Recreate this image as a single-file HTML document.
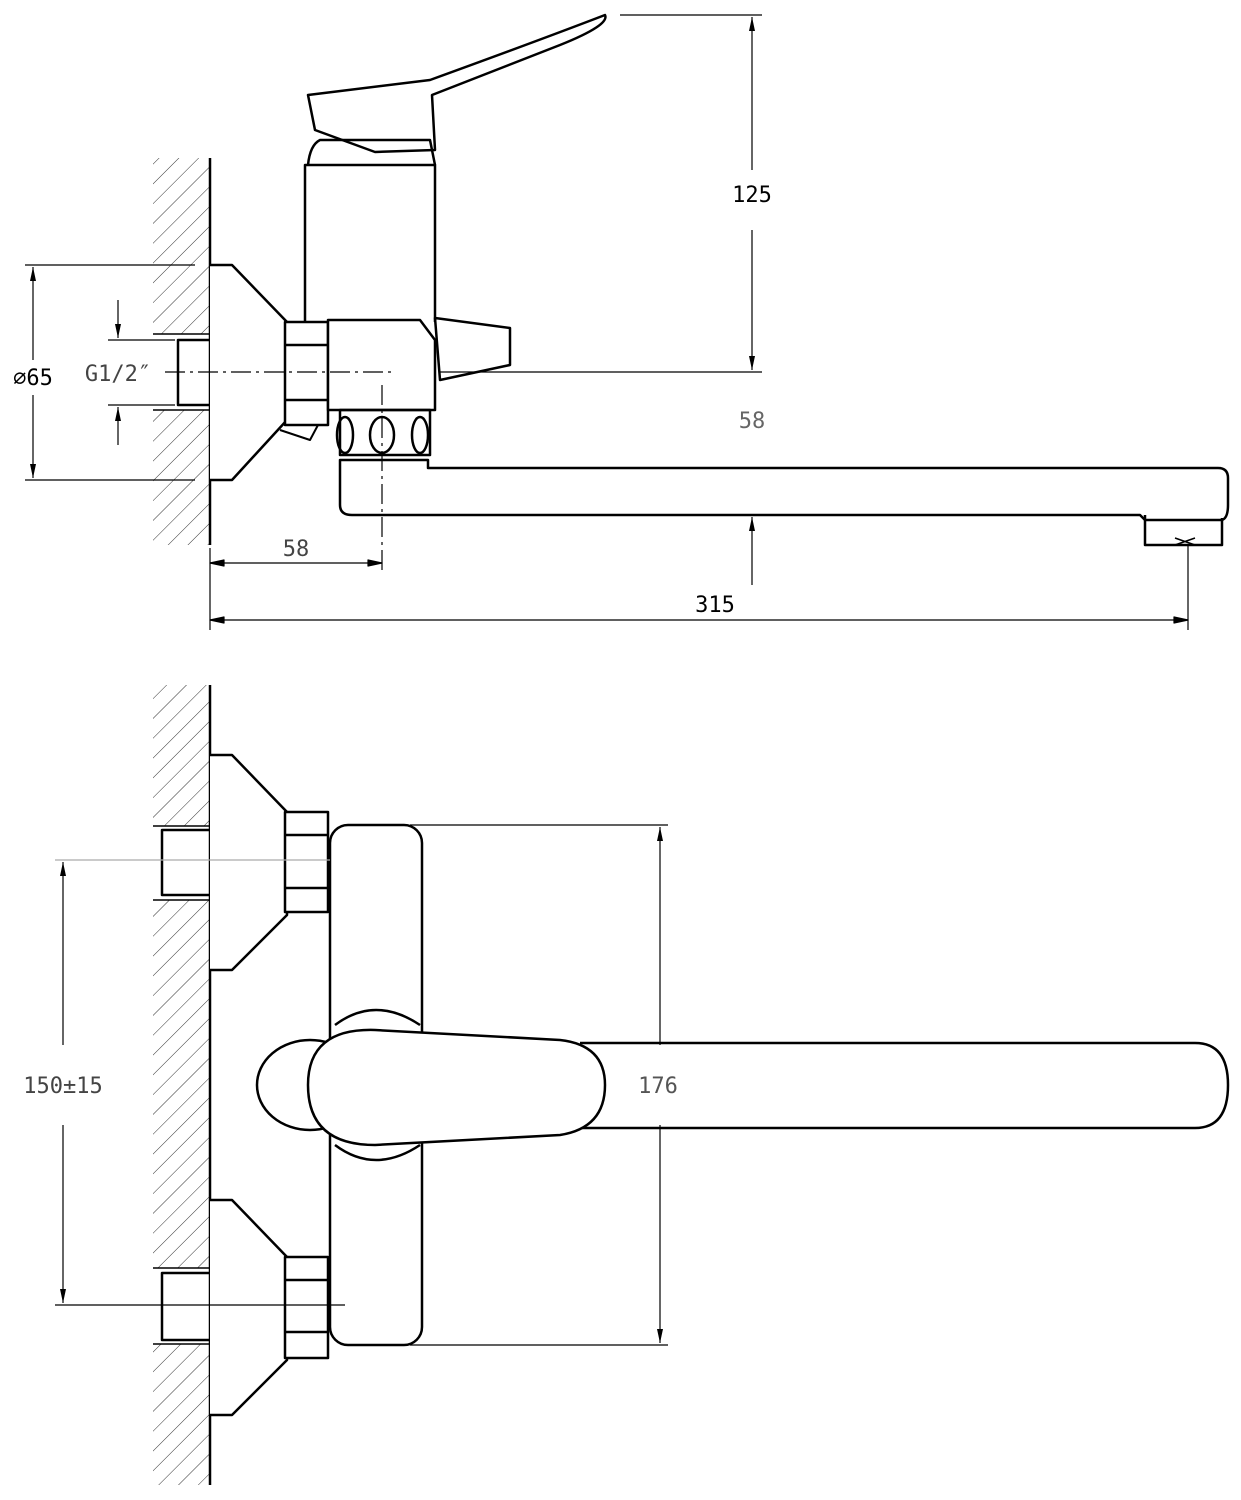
<!DOCTYPE html>
<html><head><meta charset="utf-8"><style>html,body{margin:0;padding:0;background:#fff}svg{display:block}</style></head><body>
<svg width="1241" height="1500" viewBox="0 0 1241 1500" xmlns="http://www.w3.org/2000/svg">
<defs>
<pattern id="h" width="14" height="14" patternUnits="userSpaceOnUse" patternTransform="rotate(45)">
<line x1="0" y1="0" x2="0" y2="14" stroke="#333" stroke-width="1"/></pattern>
<marker id="a" markerWidth="14" markerHeight="8" refX="14" refY="4" orient="auto" markerUnits="userSpaceOnUse"><path d="M0,1 L14,4 L0,7 Z" fill="#000"/></marker>
</defs>
<g fill="none" stroke="#000" stroke-width="2.5" stroke-linejoin="round">
<!-- TOP VIEW -->
<rect x="153" y="158" width="57" height="387" fill="url(#h)" stroke="none"/>
<rect x="153" y="334" width="57" height="76" fill="#fff" stroke="none"/>
<line x1="210" y1="158" x2="210" y2="545"/>
<line x1="153" y1="334" x2="210" y2="334" stroke-width="1.5"/>
<line x1="153" y1="410" x2="210" y2="410" stroke-width="1.5"/>
<rect x="178" y="340" width="32" height="65" fill="#fff"/>
<path d="M210,265 L232,265 L287,322 L287,420 L232,480 L210,480" fill="#fff"/>
<path d="M285,322 L328,322 L328,425 L285,425 Z M285,345 L328,345 M285,400 L328,400" fill="#fff"/>
<path d="M305,322 L305,165 L435,165 L435,322"/>
<path d="M308,165 Q310,145 320,140 L430,140 L435,165"/>
<path d="M308,95 L430,80 Q540,40 605,15 Q610,25 560,45 Q470,80 432,95 L435,150 L375,152 L315,130 Z"/>
<path d="M328,320 L420,320 L435,340 L435,410 L328,410 Z" fill="#fff"/>
<path d="M435,318 L510,328 L510,365 L440,380 Z"/>
<path d="M340,410 L430,410 L430,455 L340,455 Z"/>
<ellipse cx="345" cy="435" rx="8" ry="18"/><ellipse cx="382" cy="435" rx="12" ry="18"/><ellipse cx="420" cy="435" rx="8" ry="18"/>
<path d="M340,460 L340,505 Q340,515 352,515 L1140,515 L1145,520 L1222,520 Q1228,518 1228,505 L1228,478 Q1228,468 1218,468 L428,468 L428,460 Z"/>
<path d="M1145,515 L1145,545 L1222,545 L1222,518"/>
<path d="M1175,538 L1195,545 M1175,545 L1195,538" stroke-width="1.5"/>
<path d="M280,430 L310,440 L318,425" stroke-width="2"/>
<!-- dims top -->
<g stroke-width="1.2">
<line x1="25" y1="265" x2="195" y2="265"/><line x1="25" y1="480" x2="195" y2="480"/>
<line x1="33" y1="360" x2="33" y2="267" marker-end="url(#a)"/><line x1="33" y1="395" x2="33" y2="478" marker-end="url(#a)"/>
<line x1="108" y1="340" x2="175" y2="340"/><line x1="108" y1="405" x2="175" y2="405"/>
<line x1="118" y1="300" x2="118" y2="338" marker-end="url(#a)"/><line x1="118" y1="445" x2="118" y2="407" marker-end="url(#a)"/>
<line x1="165" y1="372" x2="395" y2="372" stroke-dasharray="20 5 3 5"/>
<line x1="382" y1="385" x2="382" y2="570" stroke-dasharray="20 5 3 5"/>
<line x1="440" y1="372" x2="762" y2="372"/>
<line x1="620" y1="15" x2="762" y2="15"/>
<line x1="752" y1="170" x2="752" y2="17" marker-end="url(#a)"/><line x1="752" y1="230" x2="752" y2="370" marker-end="url(#a)"/>
<line x1="752" y1="585" x2="752" y2="517" marker-end="url(#a)"/>
<line x1="210" y1="548" x2="210" y2="630"/><line x1="1188" y1="545" x2="1188" y2="630"/>
<line x1="210" y1="563" x2="382" y2="563"/>
<path d="M210,563 L224,560 L224,566 Z M382,563 L368,560 L368,566 Z" fill="#000"/>
<line x1="210" y1="620" x2="1188" y2="620"/>
<path d="M210,620 L224,617 L224,623 Z M1188,620 L1174,617 L1174,623 Z" fill="#000"/>
</g>
<!-- BOTTOM VIEW -->
<rect x="153" y="685" width="57" height="800" fill="url(#h)" stroke="none"/>
<rect x="153" y="826" width="57" height="74" fill="#fff" stroke="none"/>
<rect x="153" y="1268" width="57" height="76" fill="#fff" stroke="none"/>
<line x1="210" y1="685" x2="210" y2="1485"/>
<line x1="153" y1="826" x2="210" y2="826" stroke-width="1.5"/><line x1="153" y1="900" x2="210" y2="900" stroke-width="1.5"/>
<line x1="153" y1="1268" x2="210" y2="1268" stroke-width="1.5"/><line x1="153" y1="1344" x2="210" y2="1344" stroke-width="1.5"/>
<rect x="162" y="830" width="48" height="65" fill="#fff"/>
<rect x="162" y="1273" width="48" height="67" fill="#fff"/>
<path d="M210,755 L232,755 L287,812 L287,915 L232,970 L210,970" fill="#fff"/>
<path d="M210,1200 L232,1200 L287,1257 L287,1360 L232,1415 L210,1415" fill="#fff"/>
<path d="M285,812 L328,812 L328,912 L285,912 Z M285,835 L328,835 M285,888 L328,888" fill="#fff"/>
<path d="M285,1257 L328,1257 L328,1358 L285,1358 Z M285,1280 L328,1280 M285,1332 L328,1332" fill="#fff"/>
<rect x="330" y="825" width="92" height="520" rx="18" fill="#fff"/>
<path d="M335,1025 Q375,995 420,1025 M335,1145 Q375,1175 420,1145"/>
<ellipse cx="310" cy="1085" rx="53" ry="45" fill="#fff"/>
<path d="M580,1043 L1195,1043 Q1228,1043 1228,1085 Q1228,1128 1195,1128 L580,1128" fill="#fff"/>
<path d="M375,1030 L560,1040 Q605,1045 605,1085 Q605,1128 560,1135 L375,1145 Q308,1145 308,1085 Q308,1028 375,1030 Z" fill="#fff"/>
<g stroke-width="1.2">
<line x1="410" y1="825" x2="668" y2="825"/><line x1="410" y1="1345" x2="668" y2="1345"/>
<line x1="660" y1="1045" x2="660" y2="827" marker-end="url(#a)"/><line x1="660" y1="1125" x2="660" y2="1343" marker-end="url(#a)"/>
<line x1="55" y1="860" x2="330" y2="860" stroke="#aaa"/><line x1="55" y1="1305" x2="345" y2="1305"/>
<line x1="63" y1="1045" x2="63" y2="862" marker-end="url(#a)"/><line x1="63" y1="1125" x2="63" y2="1303" marker-end="url(#a)"/>
</g>
</g>
<g font-family="'DejaVu Sans Mono','Liberation Mono',monospace" font-size="22" text-anchor="middle">
<text x="752" y="202">125</text>
<text x="752" y="428" fill="#666">58</text>
<text x="296" y="556" fill="#444">58</text>
<text x="715" y="612">315</text>
<text x="33" y="385">⌀65</text>
<text x="118" y="381" fill="#444">G1/2″</text>
<text x="658" y="1093" fill="#555">176</text>
<text x="63" y="1093" fill="#444">150±15</text>
</g>
</svg>
</body></html>
